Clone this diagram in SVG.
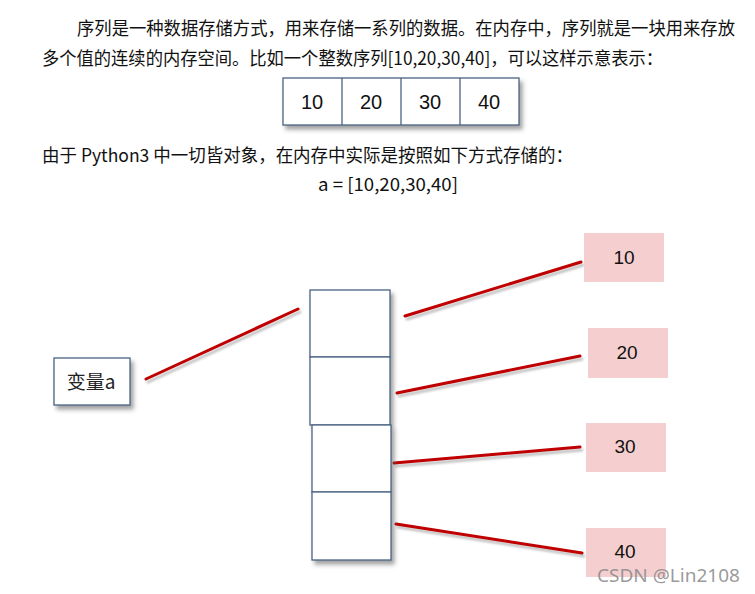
<svg xmlns="http://www.w3.org/2000/svg" width="755" height="594" viewBox="0 0 755 594">
<style>
.t{font-family:"Noto Sans CJK SC","Noto Sans",sans-serif;font-size:18px;fill:#111}
.cell{fill:#fff;stroke:#4a6383;stroke-width:1.3}
.num{font-family:"Liberation Sans",Arial,sans-serif;font-size:20px;fill:#111;text-anchor:middle}
.pink{fill:#f5cfcf}
.pnum{font-family:"Liberation Sans",Arial,sans-serif;font-size:19px;fill:#111;text-anchor:middle}
.red{stroke:#c00000;stroke-width:3;fill:none;stroke-linecap:round}
.shd{stroke:#9a9a9a;stroke-width:3;fill:none;stroke-opacity:0.6;stroke-linecap:round}
</style>
<defs>
<filter id="sh" x="-20%" y="-20%" width="150%" height="150%">
<feDropShadow dx="3" dy="4" stdDeviation="2" flood-color="#555" flood-opacity="0.55"/>
</filter>
<filter id="blur" x="-10%" y="-50%" width="120%" height="200%"><feGaussianBlur stdDeviation="1"/></filter>
</defs>
<rect width="755" height="594" fill="#fff"/>
<text class="t" x="77" y="35" textLength="658" lengthAdjust="spacingAndGlyphs">序列是一种数据存储方式，用来存储一系列的数据。在内存中，序列就是一块用来存放</text>
<text class="t" x="42" y="65" textLength="621" lengthAdjust="spacingAndGlyphs">多个值的连续的内存空间。比如一个整数序列[10,20,30,40]，可以这样示意表示：</text>
<g id="array">
<rect x="283" y="78" width="236" height="47" class="cell" filter="url(#sh)"/>
<line x1="342" y1="78" x2="342" y2="125" stroke="#4a6383" stroke-width="1.3"/>
<line x1="401" y1="78" x2="401" y2="125" stroke="#4a6383" stroke-width="1.3"/>
<line x1="460" y1="78" x2="460" y2="125" stroke="#4a6383" stroke-width="1.3"/>
<text class="num" x="312" y="109">10</text>
<text class="num" x="371" y="109">20</text>
<text class="num" x="430" y="109">30</text>
<text class="num" x="489" y="109">40</text>
</g>
<text class="t" x="42" y="162" textLength="531" lengthAdjust="spacingAndGlyphs">由于 Python3 中一切皆对象，在内存中实际是按照如下方式存储的：</text>
<text class="t" x="318" y="191" textLength="140" lengthAdjust="spacingAndGlyphs">a = [10,20,30,40]</text>
<g id="connectors">
<g filter="url(#blur)">
<line class="shd" x1="148" y1="382" x2="300" y2="312"/>
<line class="shd" x1="407" y1="319" x2="583" y2="265"/>
<line class="shd" x1="399" y1="396" x2="582" y2="359"/>
<line class="shd" x1="396" y1="466" x2="582" y2="450"/>
<line class="shd" x1="398" y1="527" x2="584" y2="556"/>
</g>
<line class="red" x1="146" y1="379" x2="298" y2="309"/>
<line class="red" x1="405" y1="316" x2="581" y2="262"/>
<line class="red" x1="397" y1="393" x2="580" y2="356"/>
<line class="red" x1="394" y1="463" x2="580" y2="447"/>
<line class="red" x1="396" y1="524" x2="582" y2="553"/>
</g>
<g id="var-a">
<rect x="54" y="358" width="76" height="47" class="cell" filter="url(#sh)"/>
<text x="91" y="389" text-anchor="middle" font-family="Noto Sans CJK SC, sans-serif" font-size="19" fill="#222">变量a</text>
</g>
<g id="stack" filter="url(#sh)">
<g id="cell1"><rect x="310" y="290" width="80" height="67" class="cell"/></g>
<g id="cell2"><rect x="310" y="357" width="80" height="68" class="cell"/></g>
<g id="cell3"><rect x="312" y="425" width="79" height="67" class="cell"/></g>
<g id="cell4"><rect x="312" y="492" width="79" height="68" class="cell"/></g>
</g>
<g id="v10"><rect x="584" y="233" width="80" height="49" class="pink"/><text class="pnum" x="624" y="264">10</text></g>
<g id="v20"><rect x="588" y="328" width="80" height="50" class="pink"/><text class="pnum" x="627" y="359">20</text></g>
<g id="v30"><rect x="586" y="423" width="80" height="49" class="pink"/><text class="pnum" x="625" y="453">30</text></g>
<g id="v40"><rect x="586" y="528" width="80" height="49" class="pink"/><text class="pnum" x="625" y="558">40</text></g>
<text x="597" y="582" font-family="Noto Sans, sans-serif" font-size="18" fill="#888" fill-opacity="0.85" textLength="143" lengthAdjust="spacingAndGlyphs">CSDN @Lin2108</text>
</svg>
